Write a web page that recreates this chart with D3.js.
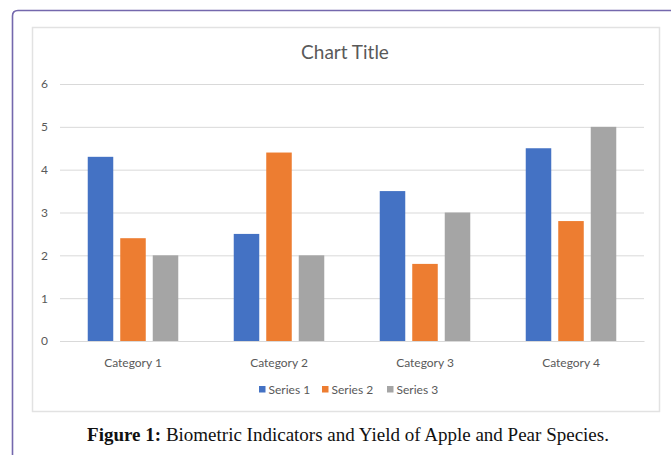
<!DOCTYPE html>
<html>
<head>
<meta charset="utf-8">
<script src="https://cdn.jsdelivr.net/npm/d3@7"></script>
<style>
  body { margin: 0; background: #fff; }
</style>
</head>
<body>
<script>
// data
const categories = ["Category 1", "Category 2", "Category 3", "Category 4"];
const seriesNames = ["Series 1", "Series 2", "Series 3"];
const series1 = [4.3, 2.5, 3.5, 4.5];
const series2 = [2.4, 4.4, 1.8, 2.8];
const series3 = [2.0, 2.0, 3.0, 5.0];
const yTicks = [0, 1, 2, 3, 4, 5, 6];
const colors = ["#4472c4", "#ed7d31", "#a5a5a5"];

const allSeries = [series1, series2, series3];

var svg = d3.select("body")
    .append("svg")
    .attr("width", 672)
    .attr("height", 455);

// outer frame (purple, runs off the right / bottom)
svg.append("path")
    .attr("d", "M12.5,460 L12.5,16 Q12.5,10.5 18,10.5 L671,10.5")
    .attr("fill", "none")
    .attr("stroke", "#7468ad")
    .attr("stroke-width", 1.6);

// chart area box
svg.append("rect")
    .attr("x", 32.5).attr("y", 27.5)
    .attr("width", 627).attr("height", 384)
    .attr("fill", "#fff")
    .attr("stroke", "#e2e2e2")
    .attr("stroke-width", 1.5);

// scales
var y = d3.scaleLinear().domain([0, 6]).range([341, 84]);
var x0 = d3.scaleBand().domain(categories).range([60, 644])
    .paddingInner(0.38).paddingOuter(0.19);
var x1 = d3.scaleBand().domain(seriesNames).range([0, x0.bandwidth()])
    .paddingInner(0.215);

// gridlines + y labels
var yAxis = d3.axisLeft(y).tickValues(yTicks).tickFormat(d3.format("d"))
    .tickSize(-584).tickPadding(12);
var gy = svg.append("g")
    .attr("transform", "translate(60,0)")
    .call(yAxis);
gy.select(".domain").remove();
gy.selectAll(".tick line").attr("stroke", "#d9d9d9").attr("stroke-width", 1);
gy.selectAll(".tick text")
    .attr("fill", "#595959")
    .style("font-family", "Lato, 'Open Sans', sans-serif")
    .style("font-size", "12px");

// bars
var groups = svg.selectAll(".cat")
    .data(categories)
    .enter()
    .append("g")
    .attr("class", "cat")
    .attr("transform", d => "translate(" + x0(d) + ",0)");

groups.selectAll("rect")
    .data((d, i) => allSeries.map((s, j) => ({ name: seriesNames[j], value: s[i], k: j })))
    .enter()
    .append("rect")
    .attr("x", d => x1(d.name))
    .attr("y", d => y(d.value))
    .attr("width", x1.bandwidth())
    .attr("height", d => y(0) - y(d.value))
    .attr("fill", d => colors[d.k]);

// category labels
var xAxis = d3.axisBottom(x0).tickSize(0).tickPadding(17);
var gx = svg.append("g")
    .attr("transform", "translate(0,341)")
    .call(xAxis);
gx.select(".domain").attr("stroke", "#d9d9d9");
gx.selectAll(".tick text")
    .attr("fill", "#595959")
    .style("font-family", "Lato, 'Open Sans', sans-serif")
    .style("font-size", "12px");

// title
svg.append("text")
    .attr("x", 345).attr("y", 59)
    .attr("text-anchor", "middle")
    .attr("fill", "#595959")
    .style("font-family", "Lato, 'Open Sans', sans-serif")
    .style("font-size", "19px")
    .text("Chart Title");

// legend
var legendX = [259, 322, 387];
var legend = svg.selectAll(".leg")
    .data(seriesNames)
    .enter()
    .append("g")
    .attr("class", "leg")
    .attr("transform", (d, i) => "translate(" + legendX[i] + ",386)");
legend.append("rect")
    .attr("width", 6.5).attr("height", 6.5)
    .attr("fill", (d, i) => colors[i]);
legend.append("text")
    .attr("x", 9.5).attr("y", 7.5)
    .attr("fill", "#595959")
    .style("font-family", "Lato, 'Open Sans', sans-serif")
    .style("font-size", "12px")
    .text(d => d);

// caption
var cap = svg.append("text")
    .attr("x", 348).attr("y", 441)
    .attr("text-anchor", "middle")
    .attr("fill", "#111")
    .style("font-family", "'Liberation Serif', 'Times New Roman', serif")
    .style("font-size", "19px");
cap.append("tspan").style("font-weight", "bold").text("Figure 1:");
cap.append("tspan").text(" Biometric Indicators and Yield of Apple and Pear Species.");
</script>
</body>
</html>
